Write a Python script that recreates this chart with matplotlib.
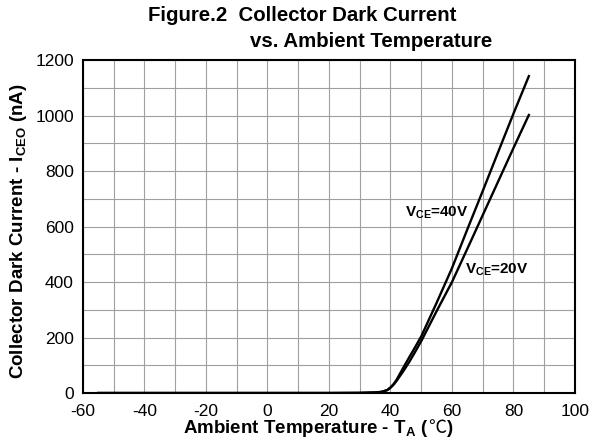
import matplotlib
matplotlib.use("Agg")
from matplotlib import pyplot as plt

temps = [-55, 0, 20, 30, 35, 37, 38, 39, 40, 41, 42, 43, 44, 46, 48, 50, 55, 60, 65, 70, 75, 80, 85]
iceo_40v = [0, 0, 0, 0.5, 2, 4, 7, 11, 20, 32, 48, 68, 88, 127, 165, 204, 325, 450, 590, 728, 868, 1007, 1142]
iceo_20v = [0, 0, 0, 0.5, 2, 4, 7, 11, 19, 30, 44, 60, 76, 110, 148, 187, 295, 400, 520, 641, 762, 883, 1002]
x_ticks = [-60, -40, -20, 0, 20, 40, 60, 80, 100]
y_ticks = [0, 200, 400, 600, 800, 1000, 1200]

plt.rcParams['font.family'] = ['Liberation Sans', 'Noto Sans CJK SC', 'DejaVu Sans']
plt.rcParams['mathtext.fontset'] = 'custom'
plt.rcParams['mathtext.rm'] = 'Liberation Sans:bold'
plt.rcParams['mathtext.it'] = 'Liberation Sans:bold'
plt.rcParams['mathtext.bf'] = 'Liberation Sans:bold'
plt.rcParams['axes.unicode_minus'] = False

fig = plt.figure(figsize=(5.98, 4.46), dpi=100)
ax = fig.add_axes([0.1388, 0.1188, 0.8227, 0.7466])

ax.plot(temps, iceo_40v, color='black', lw=1.7)
ax.plot(temps, iceo_20v, color='black', lw=1.7)

ax.set_xlim(-60, 100)
ax.set_ylim(0, 1200)
ax.set_xticks(x_ticks)
ax.set_yticks(y_ticks)
ax.set_xticks(range(-60, 101, 10), minor=True)
ax.set_yticks(range(0, 1201, 100), minor=True)
ax.grid(which='both', color='#a0a0a0', lw=0.8)
ax.set_axisbelow(True)
ax.tick_params(which='both', length=0, labelsize=12.5)
ax.tick_params(axis='x', pad=8)
ax.tick_params(axis='y', pad=6.5)
for s in ax.spines.values():
    s.set_linewidth(1.5)

ax.text(65.2, 634, r'V$_{\mathrm{CE}}$=40V', fontsize=11, fontweight='bold', ha='right', va='baseline')
ax.text(64.2, 431, r'V$_{\mathrm{CE}}$=20V', fontsize=11, fontweight='bold', ha='left', va='baseline')

ax.set_ylabel(r'Collector Dark Current - I$_{\mathrm{CEO}}$ (nA)', fontsize=13.5, fontweight='bold')
ax.yaxis.set_label_coords(-0.110, 0.485)

# x label in three pieces so the degree-C sign can come from a CJK font
parts = [
    fig.text(0, 0.029, r'Ambient Temperature - T$_{\mathrm{A}}$ (', fontsize=13.5, fontweight='bold', va='baseline'),
    fig.text(0, 0.029, '℃', fontsize=13, family='Noto Sans CJK SC', va='baseline'),
    fig.text(0, 0.029, ')', fontsize=13.5, fontweight='bold', va='baseline'),
]
fig.canvas.draw()
r = fig.canvas.get_renderer()
widths = [p.get_window_extent(r).width for p in parts]
x = 318 - sum(widths) / 2
for p, w in zip(parts, widths):
    p.set_x(x / fig.bbox.width)
    x += w

fig.text(0.505, 0.966, 'Figure.2  Collector Dark Current', fontsize=14.7, fontweight='bold', ha='center', va='center')
fig.text(0.620, 0.906, 'vs. Ambient Temperature', fontsize=14.7, fontweight='bold', ha='center', va='center')

fig.savefig('out.png', dpi=100)
